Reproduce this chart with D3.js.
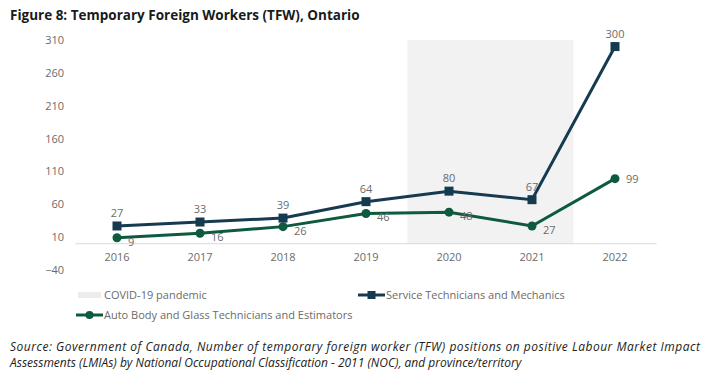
<!DOCTYPE html>
<html>
<head>
<meta charset="utf-8">
<script src="https://cdn.jsdelivr.net/npm/d3@7"></script>
<style>
  body { margin: 0; background: #fff; }
  svg { display: block; font-family: "Open Sans", "Noto Sans", sans-serif; }
</style>
</head>
<body>
<div id="chart"></div>
<script>
// Chart data
const years = ["2016", "2017", "2018", "2019", "2020", "2021", "2022"];
const serviceTech = [27, 33, 39, 64, 80, 67, 300];
const autoBody = [9, 16, 26, 46, 48, 27, 99];
const yTicks = [-40, 10, 60, 110, 160, 210, 260, 310];
const covidYears = ["2020", "2021"];

const seriesNames = {
    service: "Service Technicians and Mechanics",
    auto: "Auto Body and Glass Technicians and Estimators"
};

function drawChart() {
    const W = 713, H = 375;
    const navy = "#163a4f";
    const green = "#0d5a3e";
    const grey = "#6b6b6b";

    const svg = d3.select("#chart")
        .append("svg")
        .attr("width", W)
        .attr("height", H);

    // Scales
    const x = d3.scaleBand()
        .domain(years)
        .range([75.5, 656.5]);

    const y = d3.scaleLinear()
        .domain([-40, 310])
        .range([270, 40]);

    const cx = d => x(d) + x.bandwidth() / 2;

    // Title
    svg.append("text")
        .attr("x", 10)
        .attr("y", 20)
        .style("font-size", "13.5px")
        .style("font-weight", "bold")
        .style("fill", "#1a1a1a")
        .text("Figure 8: Temporary Foreign Workers (TFW), Ontario");

    // COVID shaded band
    svg.append("rect")
        .attr("x", x(covidYears[0]))
        .attr("y", y(310))
        .attr("width", x(covidYears[1]) + x.bandwidth() - x(covidYears[0]))
        .attr("height", y(0) - y(310))
        .attr("fill", "#f2f2f2");

    // Y axis (labels only)
    const yAxis = svg.append("g")
        .attr("transform", "translate(64,0)")
        .call(d3.axisLeft(y).tickValues(yTicks).tickSize(0).tickPadding(0));
    yAxis.select(".domain").remove();
    yAxis.selectAll("text")
        .style("font-size", "11px")
        .style("fill", grey)
        .style("font-family", "'Open Sans', sans-serif");

    // X axis at zero
    svg.append("line")
        .attr("x1", x.range()[0])
        .attr("x2", x.range()[1])
        .attr("y1", y(0))
        .attr("y2", y(0))
        .attr("stroke", "#d9d9d9")
        .attr("stroke-width", 1);

    const xAxis = svg.append("g")
        .attr("transform", `translate(0,${y(0)})`)
        .call(d3.axisBottom(x).tickSize(0).tickPadding(9));
    xAxis.select(".domain").remove();
    xAxis.selectAll("text")
        .style("font-size", "11px")
        .style("fill", grey)
        .style("font-family", "'Open Sans', sans-serif");

    const line = d3.line()
        .x((d, i) => cx(years[i]))
        .y(d => y(d));

    // Auto body series
    svg.append("path")
        .datum(autoBody)
        .attr("fill", "none")
        .attr("stroke", green)
        .attr("stroke-width", 3)
        .attr("d", line);

    svg.selectAll(".auto-pt")
        .data(autoBody)
        .enter()
        .append("circle")
        .attr("cx", (d, i) => cx(years[i]))
        .attr("cy", d => y(d))
        .attr("r", 4.5)
        .attr("fill", green);

    // Service tech series
    svg.append("path")
        .datum(serviceTech)
        .attr("fill", "none")
        .attr("stroke", navy)
        .attr("stroke-width", 3)
        .attr("d", line);

    svg.selectAll(".svc-pt")
        .data(serviceTech)
        .enter()
        .append("rect")
        .attr("x", (d, i) => cx(years[i]) - 4.5)
        .attr("y", d => y(d) - 4.5)
        .attr("width", 9)
        .attr("height", 9)
        .attr("fill", navy);

    // Data labels
    svg.selectAll(".svc-lbl")
        .data(serviceTech)
        .enter()
        .append("text")
        .attr("x", (d, i) => cx(years[i]))
        .attr("y", d => y(d) - 9)
        .attr("text-anchor", "middle")
        .style("font-size", "11px")
        .style("fill", grey)
        .text(d => d);

    svg.selectAll(".auto-lbl")
        .data(autoBody)
        .enter()
        .append("text")
        .attr("x", (d, i) => cx(years[i]) + 11)
        .attr("y", (d, i) => y(d) + (i === autoBody.length - 1 ? 4 : 8))
        .style("font-size", "11px")
        .style("fill", grey)
        .text(d => d);

    // Legend
    const legend = svg.append("g");

    legend.append("rect")
        .attr("x", 78)
        .attr("y", 292)
        .attr("width", 23)
        .attr("height", 6)
        .attr("fill", "#ececec");
    legend.append("text")
        .attr("x", 104)
        .attr("y", 299)
        .style("font-size", "11px")
        .style("fill", grey)
        .text("COVID-19 pandemic");

    legend.append("line")
        .attr("x1", 358).attr("x2", 385)
        .attr("y1", 295).attr("y2", 295)
        .attr("stroke", navy).attr("stroke-width", 3);
    legend.append("rect")
        .attr("x", 367.5).attr("y", 291)
        .attr("width", 8).attr("height", 8)
        .attr("fill", navy);
    legend.append("text")
        .attr("x", 386)
        .attr("y", 299)
        .style("font-size", "11px")
        .style("fill", grey)
        .text(seriesNames.service);

    legend.append("line")
        .attr("x1", 76).attr("x2", 103)
        .attr("y1", 315).attr("y2", 315)
        .attr("stroke", green).attr("stroke-width", 3);
    legend.append("circle")
        .attr("cx", 89.5).attr("cy", 315)
        .attr("r", 4)
        .attr("fill", green);
    legend.append("text")
        .attr("x", 104)
        .attr("y", 319)
        .style("font-size", "11px")
        .style("fill", grey)
        .text(seriesNames.auto);

    // Source note
    svg.append("text")
        .attr("x", 10)
        .attr("y", 351)
        .attr("textLength", 690)
        .attr("lengthAdjust", "spacing")
        .style("font-size", "12px")
        .style("font-style", "italic")
        .style("fill", "#222")
        .text("Source: Government of Canada, Number of temporary foreign worker (TFW) positions on positive Labour Market Impact");

    svg.append("text")
        .attr("x", 10)
        .attr("y", 367)
        .style("font-size", "12px")
        .style("font-style", "italic")
        .style("fill", "#222")
        .text("Assessments (LMIAs) by National Occupational Classification - 2011 (NOC), and province/territory");
}

drawChart();
</script>
</body>
</html>
